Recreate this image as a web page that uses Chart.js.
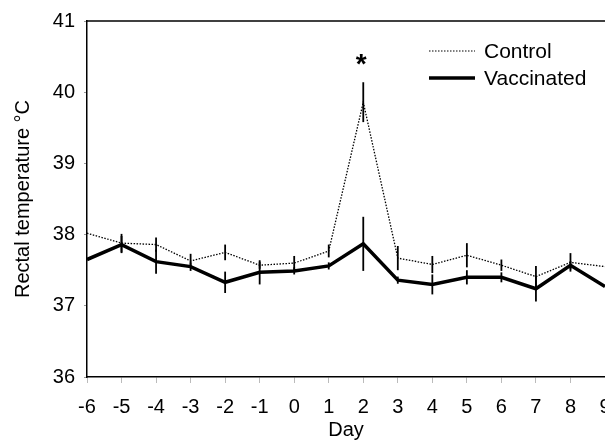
<!DOCTYPE html>
<html><head><meta charset="utf-8">
<script src="https://cdn.jsdelivr.net/npm/chart.js@4/dist/chart.umd.min.js"></script>
<style>html,body{margin:0;padding:0;background:#fff;overflow:hidden}#wrap{width:605px;height:441px}</style>
</head><body><div id="wrap"><canvas id="c" width="605" height="441"></canvas></div>
<script>
const days = [-6,-5,-4,-3,-2,-1,0,1,2,3,4,5,6,7,8,9];
const controlTemps = [38.02,37.88,37.86,37.63,37.75,37.57,37.6,37.77,39.86,37.67,37.58,37.71,37.57,37.41,37.61,37.55];
const controlErr   = [0,0.13,0.1,0.1,0.11,0.05,0.1,0.09,0.28,0.17,0.12,0.17,0.08,0.15,0.13,0];
const vaccTemps    = [37.65,37.86,37.62,37.55,37.33,37.47,37.49,37.56,37.87,37.36,37.30,37.40,37.40,37.24,37.57,37.27];
const vaccErr      = [0,0.12,0.17,0.06,0.15,0.17,0.05,0.05,0.38,0.05,0.14,0.1,0.07,0.18,0.06,0];
const seriesNames  = ['Control','Vaccinated'];
const yTicks = [36,37,38,39,40,41];
const xTitle = 'Day';
const yTitle = 'Rectal temperature °C';
const significantDay = 2;

const FONT = 'Liberation Sans, Arial, sans-serif';

const errPlugin = {
  id: 'errs',
  afterDatasetsDraw(chart) {
    const ctx = chart.ctx, xs = chart.scales.x, ys = chart.scales.y, a = chart.chartArea;
    ctx.save();
    ctx.beginPath(); ctx.rect(a.left, a.top - 2, a.right - a.left, a.bottom - a.top + 4); ctx.clip();
    ctx.strokeStyle = '#000'; ctx.lineWidth = 1.8;
    [[controlTemps, controlErr], [vaccTemps, vaccErr]].forEach(([v, e]) => {
      days.forEach((d, i) => {
        if (!e[i]) return;
        const x = xs.getPixelForValue(d);
        ctx.beginPath();
        ctx.moveTo(x, ys.getPixelForValue(v[i] + e[i]));
        ctx.lineTo(x, ys.getPixelForValue(v[i] - e[i]));
        ctx.stroke();
      });
    });
    ctx.restore();
    // top frame line
    ctx.save();
    ctx.strokeStyle = '#000'; ctx.lineWidth = 1.5;
    ctx.beginPath(); ctx.moveTo(a.left, a.top); ctx.lineTo(chart.width, a.top); ctx.stroke();
    // asterisk
    ctx.fillStyle = '#000';
    ctx.font = 'bold 28px ' + FONT;
    ctx.textAlign = 'center'; ctx.textBaseline = 'alphabetic';
    const ai = days.indexOf(significantDay);
    ctx.fillText('*', xs.getPixelForValue(significantDay) - 2, ys.getPixelForValue(controlTemps[ai] + controlErr[ai]) - 9);
    // legend
    ctx.font = '21px ' + FONT;
    ctx.textAlign = 'left'; ctx.textBaseline = 'middle';
    const lx0 = 429, lx1 = 475, tx = 484;
    ctx.lineWidth = 1.2; ctx.setLineDash([1.5, 1.5]);
    ctx.beginPath(); ctx.moveTo(lx0, 51); ctx.lineTo(lx1, 51); ctx.stroke();
    ctx.setLineDash([]);
    ctx.lineWidth = 3.5;
    ctx.beginPath(); ctx.moveTo(lx0, 78); ctx.lineTo(lx1, 78); ctx.stroke();
    ctx.fillText(seriesNames[0], tx, 52);
    ctx.fillText(seriesNames[1], tx, 79);
    ctx.restore();
  }
};

new Chart(document.getElementById('c'), {
  type: 'line',
  data: {
    datasets: [
      { label: seriesNames[0], data: days.map((d, i) => ({x: d, y: controlTemps[i]})),
        borderColor: '#000', borderWidth: 1.3, borderDash: [1.5, 1.5], pointRadius: 0, tension: 0, fill: false },
      { label: seriesNames[1], data: days.map((d, i) => ({x: d, y: vaccTemps[i]})),
        borderColor: '#000', borderWidth: 3.5, pointRadius: 0, tension: 0, fill: false, borderJoinStyle: 'miter' }
    ]
  },
  options: {
    responsive: false, animation: false,
    layout: { padding: { top: 20, left: 0, right: 0, bottom: 0 } },
    plugins: { legend: { display: false }, tooltip: { enabled: false } },
    scales: {
      x: {
        type: 'linear', min: days[0], max: days[days.length - 1],
        afterBuildTicks(s) { s.ticks = days.map(v => ({value: v})); },
        afterFit(s) { s.height = 64; s.paddingRight = 0; s.paddingLeft = 0; },
        grid: { drawOnChartArea: false, drawTicks: true, tickLength: 6, color: '#bbb', lineWidth: 1 },
        border: { display: true, color: '#000', width: 1.5 },
        ticks: { color: '#000', font: { family: FONT, size: 20 }, padding: 12, maxRotation: 0, autoSkip: false },
        title: { display: true, text: xTitle, color: '#000', font: { family: FONT, size: 20 }, padding: { top: 0, bottom: -1 } }
      },
      y: {
        min: yTicks[0], max: yTicks[yTicks.length - 1],
        afterBuildTicks(s) { s.ticks = yTicks.map(v => ({value: v})); },
        afterFit(s) { s.width = 87; },
        grid: { drawOnChartArea: false, drawTicks: true, tickLength: 3, color: '#999', lineWidth: 1 },
        border: { display: true, color: '#000', width: 1.5 },
        ticks: { color: '#000', font: { family: FONT, size: 20 }, padding: 9 },
        title: { display: true, text: yTitle, color: '#000', font: { family: FONT, size: 20 }, padding: { top: 11, bottom: 0 } }
      }
    }
  },
  plugins: [errPlugin]
});
</script></body></html>
